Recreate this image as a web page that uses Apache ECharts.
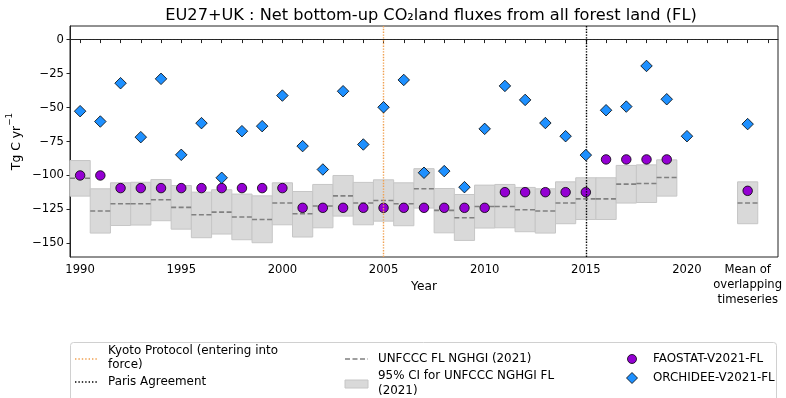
<!DOCTYPE html>
<html>
<head>
<meta charset="utf-8">
<script src="https://cdn.jsdelivr.net/npm/echarts@6/dist/echarts.min.js"></script>
<style>html,body{margin:0;padding:0;background:#fff;}#c{width:786px;height:398px;}</style>
</head>
<body>
<div id="c"></div>
<script>
// ---- data ----
const years = [1990,1991,1992,1993,1994,1995,1996,1997,1998,1999,2000,2001,2002,2003,2004,2005,2006,2007,2008,2009,2010,2011,2012,2013,2014,2015,2016,2017,2018,2019,2020];
const meanX = 2023;
const orchidee = [-52.7,-60.3,-32.1,-71.8,-28.9,-84.8,-61.5,-101.7,-67.4,-63.7,-41.2,-78.4,-95.6,-38.0,-77.2,-49.8,-29.7,-98.0,-96.8,-108.6,-65.7,-34.1,-44.4,-61.4,-71.1,-85.0,-52.0,-49.3,-19.4,-43.9,-71.1];
const orchideeMean = -62.2;
const faostat = [-100,-100,-109.3,-109.3,-109.3,-109.3,-109.3,-109.3,-109.3,-109.3,-109.3,-123.8,-123.8,-123.8,-123.8,-123.8,-123.8,-123.8,-123.8,-123.8,-123.8,-112.3,-112.3,-112.3,-112.3,-112.3,-88.2,-88.2,-88.2,-88.2];
const faostatMean = -111.3;
const unfccc = [-102,-126.2,-120.8,-120.8,-117.9,-123.5,-128.9,-127,-130.6,-132.4,-120.3,-128.2,-122.5,-115,-120.3,-118.4,-120.8,-109.8,-125.7,-131.1,-122.8,-122.8,-125.2,-126.1,-120.3,-117.2,-117.2,-106.4,-105.9,-101.5];
const unfcccMean = -120.3;
const ciUpper = [-89,-109.8,-105.4,-105,-103,-107.4,-112.3,-110.5,-113.7,-115,-105.4,-111.8,-106.6,-100,-105.1,-103.2,-105.4,-95,-109.6,-114,-107.1,-106.6,-108.8,-109.8,-104.7,-101.7,-101.7,-92.6,-92.2,-88.5];
const ciLower = [-115.2,-142.4,-136.8,-136.5,-133.3,-139.5,-145.8,-143.1,-147.3,-149.5,-136.3,-145.3,-138.5,-129.9,-136.3,-133.6,-137,-124,-142.2,-147.8,-138.7,-138.5,-141.4,-142.4,-135.5,-132.4,-132.4,-120.3,-119.9,-115.2];
const ciMean = [-104.7,-135.5];
const kyotoYear = 2005;
const parisYear = 2015;
const xTickLabels = [1990,1995,2000,2005,2010,2015,2020,2023];
const xTicks = [1990,1991,1992,1993,1994,1995,1996,1997,1998,1999,2000,2001,2002,2003,2004,2005,2006,2007,2008,2009,2010,2011,2012,2013,2014,2015,2016,2017,2018,2019,2020,2021,2022,2023,2024];
const yTicks = [0,-25,-50,-75,-100,-125,-150];

// ---- build ----
const FONT = 'DejaVu Sans';
const FS = 11.6;
const LFS = 11.9;
const KYOTO_COLOR = '#f0a050';

const ciData = years.slice(0, ciUpper.length).map((y,i)=>[y, ciUpper[i], ciLower[i]]);
ciData.push([meanX, ciMean[0], ciMean[1]]);
const unfcccData = years.slice(0, unfccc.length).map((y,i)=>[y, unfccc[i]]);
unfcccData.push([meanX, unfcccMean]);
const faoData = years.slice(0, faostat.length).map((y,i)=>[y, faostat[i]]);
faoData.push([meanX, faostatMean]);
const orcData = years.map((y,i)=>[y, orchidee[i]]);
orcData.push([meanX, orchideeMean]);

const chart = echarts.init(document.getElementById('c'), null, {renderer:'canvas'});
const fmtY = v => v < 0 ? '\u2212' + (-v) : String(v);
const lfont = LFS + 'px "DejaVu Sans"';

chart.setOption({
  animation: false,
  backgroundColor: '#fff',
  textStyle: {fontFamily: FONT},
  title: {
    text: 'EU27+UK : Net bottom-up CO\u2082land fluxes from all forest land (FL)',
    left: 426, top: 3, textAlign: 'center',
    textStyle: {fontFamily: FONT, fontSize: 16.2, fontWeight: 'normal', color: '#000'}
  },
  grid: {left: 70, right: 8, top: 26, bottom: 141, outerBoundsMode: 'none', containLabel: false,
    show: true, borderColor: '#222', borderWidth: 1, backgroundColor: 'transparent'},
  xAxis: {
    type: 'value', min: 1989.5, max: 2024.5,
    name: 'Year', nameLocation: 'middle', nameGap: 24, nameMoveOverlap: false,
    nameTextStyle: {fontFamily: FONT, fontSize: FS + 0.6, color: '#000'},
    axisLine: {show: true, lineStyle: {color: '#222'}},
    axisTick: {show: true, customValues: xTicks, length: 3.5, lineStyle: {color: '#222'}},
    axisLabel: {
      customValues: xTickLabels, margin: 5, lineHeight: 15,
      fontFamily: FONT, fontSize: FS, color: '#000',
      formatter: v => v === meanX ? 'Mean of\noverlapping\ntimeseries' : String(v)
    },
    splitLine: {show: false}
  },
  yAxis: {
    type: 'value', min: -160, max: 10,
    name: '{n|Tg C yr}{s|\u22121}', nameLocation: 'middle', nameGap: 47, nameRotate: 90, nameMoveOverlap: false,
    nameTextStyle: {
      fontFamily: FONT, fontSize: 12.4, color: '#000',
      rich: {
        n: {fontFamily: FONT, fontSize: 12.4, color: '#000', lineHeight: 18, verticalAlign: 'bottom'},
        s: {fontFamily: FONT, fontSize: 8.8, color: '#000', lineHeight: 18, verticalAlign: 'top'}
      }
    },
    axisLine: {show: true, lineStyle: {color: '#222'}},
    axisTick: {show: true, customValues: yTicks, length: 3.5, lineStyle: {color: '#222'}},
    axisLabel: {customValues: yTicks, margin: 6, fontFamily: FONT, fontSize: FS, color: '#000', formatter: fmtY},
    splitLine: {show: false}
  },
  series: [
    {
      type: 'custom', name: 'ci', z: 1,
      data: ciData,
      renderItem: (params, api) => {
        const x = api.value(0), hi = api.value(1), lo = api.value(2);
        const p1 = api.coord([x - 0.5, hi]);
        const p2 = api.coord([x + 0.5, lo]);
        return {type: 'rect', shape: {x: p1[0], y: p1[1], width: p2[0] - p1[0], height: p2[1] - p1[1]},
          style: {fill: '#d9d9d9', stroke: '#c6c6c6', lineWidth: 1}};
      }
    },
    {
      type: 'custom', name: 'unfccc', z: 2,
      data: unfcccData,
      renderItem: (params, api) => {
        const x = api.value(0), v = api.value(1);
        const p1 = api.coord([x - 0.5, v]);
        const p2 = api.coord([x + 0.5, v]);
        return {type: 'line', shape: {x1: p1[0], y1: p1[1], x2: p2[0], y2: p2[1]},
          style: {stroke: '#808080', lineWidth: 1.6, lineDash: [5, 2.5]}};
      }
    },
    {
      type: 'scatter', name: 'refs', z: 3, data: [],
      markLine: {
        silent: true, symbol: 'none', label: {show: false},
        data: [
          {xAxis: kyotoYear, lineStyle: {type: 'dotted', color: KYOTO_COLOR, width: 1.4}},
          {xAxis: parisYear, lineStyle: {type: 'dotted', color: '#000', width: 1.4}},
          {yAxis: 0, lineStyle: {type: 'dotted', color: '#333', width: 0.7}}
        ]
      }
    },
    {
      type: 'scatter', name: 'FAOSTAT-V2021-FL', z: 4,
      data: faoData, symbol: 'circle', symbolSize: 9.5,
      itemStyle: {color: '#9400d3', borderColor: '#000', borderWidth: 0.8, opacity: 1}
    },
    {
      type: 'scatter', name: 'ORCHIDEE-V2021-FL', z: 5,
      data: orcData, symbol: 'diamond', symbolSize: 11.5,
      itemStyle: {color: '#1e90ff', borderColor: '#000', borderWidth: 0.8, opacity: 1}
    }
  ],
  graphic: [
    {type: 'rect', z: 10, shape: {x: 70.5, y: 342.5, width: 706, height: 64, r: 3}, style: {fill: '#fff', stroke: '#d0d0d0', lineWidth: 1}},
    {type: 'line', z: 11, shape: {x1: 75, y1: 359, x2: 97, y2: 359}, style: {stroke: KYOTO_COLOR, lineWidth: 1.4, lineDash: [1.4, 2]}},
    {type: 'text', z: 11, style: {text: 'Kyoto Protocol (entering into\nforce)', x: 108, y: 358, verticalAlign: 'middle', lineHeight: 14.5, font: lfont, fill: '#000'}},
    {type: 'line', z: 11, shape: {x1: 75, y1: 382, x2: 97, y2: 382}, style: {stroke: '#000', lineWidth: 1.4, lineDash: [1.4, 2]}},
    {type: 'text', z: 11, style: {text: 'Paris Agreement', x: 108, y: 382, verticalAlign: 'middle', font: lfont, fill: '#000'}},
    {type: 'line', z: 11, shape: {x1: 345, y1: 359, x2: 368, y2: 359}, style: {stroke: '#808080', lineWidth: 1.6, lineDash: [5, 2.5]}},
    {type: 'text', z: 11, style: {text: 'UNFCCC FL NGHGI (2021)', x: 378, y: 359, verticalAlign: 'middle', font: lfont, fill: '#000'}},
    {type: 'rect', z: 11, shape: {x: 345, y: 380, width: 23, height: 8}, style: {fill: '#d9d9d9', stroke: '#c6c6c6', lineWidth: 1}},
    {type: 'text', z: 11, style: {text: '95% CI for UNFCCC NGHGI FL\n(2021)', x: 378, y: 383.5, verticalAlign: 'middle', lineHeight: 14.5, font: lfont, fill: '#000'}},
    {type: 'circle', z: 11, shape: {cx: 632, cy: 359, r: 4.5}, style: {fill: '#9400d3', stroke: '#000', lineWidth: 0.8}},
    {type: 'text', z: 11, style: {text: 'FAOSTAT-V2021-FL', x: 653, y: 359, verticalAlign: 'middle', font: lfont, fill: '#000'}},
    {type: 'polygon', z: 11, shape: {points: [[632, 372.5], [637.5, 378], [632, 383.5], [626.5, 378]]}, style: {fill: '#1e90ff', stroke: '#000', lineWidth: 0.8}},
    {type: 'text', z: 11, style: {text: 'ORCHIDEE-V2021-FL', x: 653, y: 378, verticalAlign: 'middle', font: lfont, fill: '#000'}}
  ]
});
</script>
</body>
</html>
